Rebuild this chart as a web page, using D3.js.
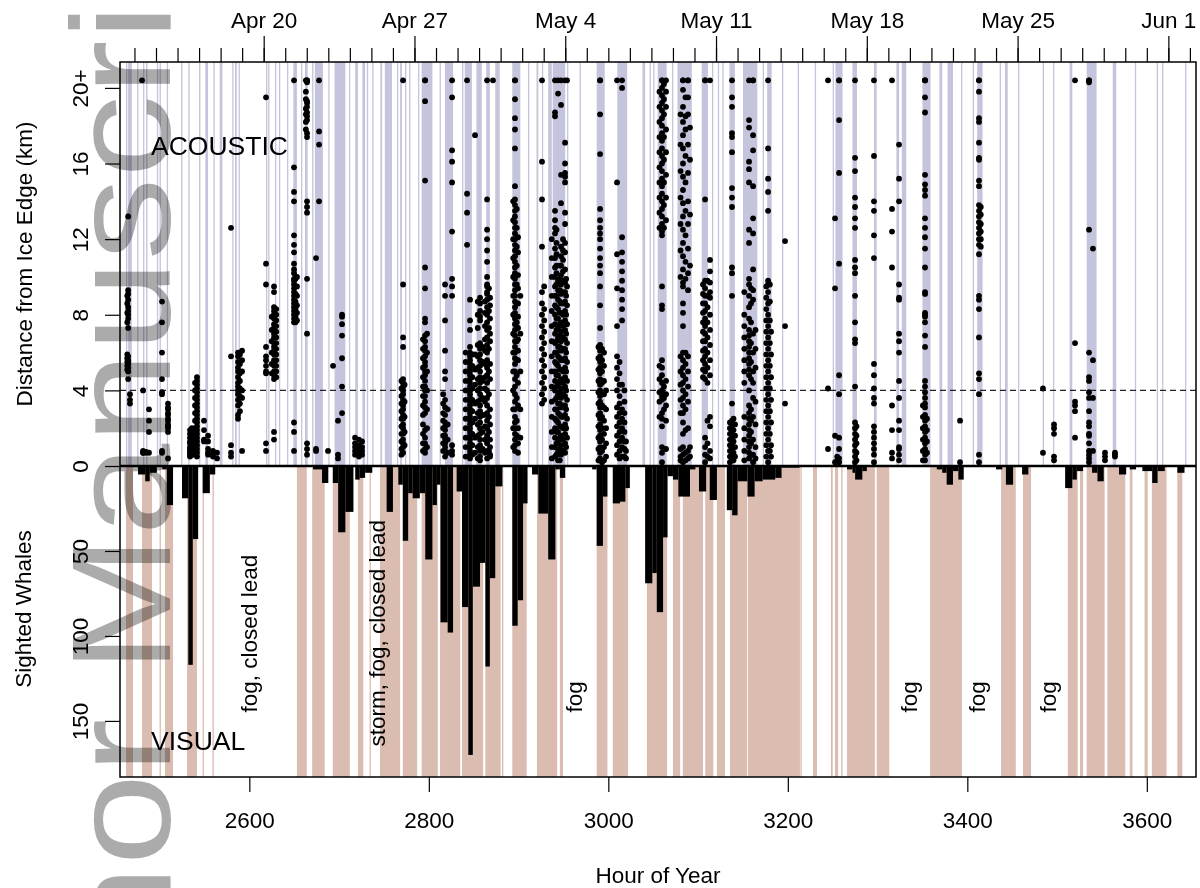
<!DOCTYPE html>
<html>
<head>
<meta charset="utf-8">
<script src="https://cdn.jsdelivr.net/npm/d3@7"></script>
<style>
  html, body { margin: 0; padding: 0; background: #fff; }
  svg { display: block; font-family: "Liberation Sans", Arial, Helvetica, sans-serif; }
</style>
</head>
<body>
<svg id="chart" width="1200" height="888"></svg>
<script>
// ---------------- DATA ----------------
const hourTicks = [2600, 2800, 3000, 3200, 3400, 3600];
const dateLabels = ["Apr 20", "Apr 27", "May 4", "May 11", "May 18", "May 25", "Jun 1"];
const dateHours = [2616, 2784, 2952, 3120, 3288, 3456, 3624];
const dayTickHours = d3.range(2472, 3649, 24); // one tick per day, Apr 14 .. Jun 2

const kmTicks = [0, 4, 8, 12, 16, 20];
const kmTickLabels = ["0", "4", "8", "12", "16", "20+"];
const whaleTicks = [50, 100, 150];
const thresholdKm = 4;

// acoustic effort (lavender lines), hour ranges
const acousticEffort = [[2462.6,2463.6],[2465,2469],[2475,2476],[2481.6,2482.6],[2485,2486.5],[2497,2498],[2500,2501],[2508,2509],[2524,2525],[2532,2533],[2544,2545],[2551,2554],[2560,2561],[2567,2570],[2581,2582],[2584,2586],[2588,2589],[2618.6,2619.6],[2621,2622],[2628.6,2629.6],[2633,2634],[2642,2643],[2649,2653],[2657.6,2658.6],[2662,2665],[2670,2671],[2673,2682],[2688,2689],[2695,2707],[2711,2712],[2718,2721],[2726,2729],[2731,2732],[2737,2738],[2746,2748],[2751,2759],[2764.5,2765.5],[2768,2770],[2773.5,2774.5],[2778,2779],[2788,2789],[2792,2804],[2812,2813],[2818,2827],[2837,2838],[2840,2848],[2853,2859],[2864,2868],[2874,2879],[2893,2902],[2910.5,2911.5],[2920,2922],[2926,2927],[2933,2937],[2938,2952],[2954,2955],[2968,2969],[2987,2996],[3010,3021],[3038,3041],[3046,3047],[3050,3051],[3055,3065],[3071,3072],[3077,3093],[3104,3111],[3115.5,3116.5],[3122,3123],[3127,3128],[3135,3141],[3150,3166],[3172,3173],[3177,3182],[3193.5,3194.5],[3211,3212],[3230,3231],[3250,3251],[3253,3261],[3272,3277],[3296,3299],[3321,3324],[3327,3332],[3350,3359],[3369,3372],[3378,3384],[3393,3394],[3406,3407],[3411,3417],[3436,3437],[3442,3445],[3456.5,3457.5],[3484,3485],[3495.5,3496.5],[3514,3517],[3533,3544],[3562,3566],[3586.7,3587.7],[3611,3612],[3617,3618],[3642.6,3643.6]];

// visual effort (tan bands), hour ranges
const visualEffort = [[2462.6,2470.4],[2480.4,2491.6],[2500,2501.2],[2506,2515],[2530.6,2541.7],[2548,2549.2],[2559,2560.2],[2653,2664],[2670,2684],[2693,2712],[2721,2727],[2734,2735.2],[2745.6,2768],[2771,2787],[2792,2810],[2812.5,2835],[2837,2860.5],[2863,2880],[2881.5,2883],[2893,2909],[2920.5,2943],[2946,2949.5],[2987,2999],[3005,3022],[3043,3065.5],[3072,3080],[3083,3105.5],[3108,3117],[3121,3130],[3135.5,3154.5],[3155.5,3213.5],[3214,3215.5],[3228,3232.5],[3248,3250],[3252.6,3256],[3259.5,3261],[3266,3297],[3299,3313],[3358.5,3394],[3437.6,3454],[3462,3471],[3512,3523],[3525.6,3529],[3533,3553],[3556,3576],[3581,3584],[3597.5,3601],[3605.6,3622],[3634,3639.5]];

// sighted whales: [startHour, endHour, count]
const sightings = [[2476,2484,5],[2484,2489,9],[2489,2497,4],[2503,2508,2],[2508,2515,23],[2525,2532,19],[2532,2537,117],[2537,2543,43],[2548,2556,16],[2556,2562,5],[2671,2681,2],[2681,2688,10],[2693,2699,10],[2699,2707,39],[2707,2716,27],[2718,2723,8],[2723,2729,7],[2729,2737,4],[2753,2760,27],[2766,2771,11],[2771,2777,44],[2777,2782,16],[2782,2790,19],[2790,2796,16],[2796,2804,55],[2804,2809,23],[2809,2813,11],[2813,2821,92],[2821,2827,98],[2831,2837,15],[2837,2844,83],[2844,2849,170],[2849,2857,71],[2857,2863,57],[2863,2868,118],[2868,2874,66],[2874,2882,12],[2893,2899,94],[2899,2905,79],[2905,2910,22],[2915,2922,5],[2922,2933,28],[2933,2941,55],[2941,2946,2],[2946,2952,7],[2982,2987,2],[2987,2994,47],[2994,2999,18],[3005,3013,22],[3013,3019,21],[3019,3024,13],[3041,3049,69],[3049,3054,63],[3054,3061,86],[3061,3066,42],[3066,3072,6],[3072,3078,8],[3078,3091,18],[3091,3097,2],[3101,3109,15],[3113,3121,20],[3132,3138,26],[3138,3144,29],[3144,3155,9],[3155,3163,18],[3163,3172,9],[3172,3186,8],[3186,3193,7],[3193,3200,1],[3200,3213,1],[3266,3272,2],[3272,3275,4],[3275,3283,8],[3283,3288,3],[3366,3372,2],[3372,3377,4],[3377,3384,11],[3384,3390,3],[3390,3396,8],[3432,3439,2],[3443,3451,11],[3461,3468,5],[3509,3517,13],[3517,3522,8],[3522,3529,3],[3539,3545,4],[3545,3552,9],[3569,3577,5],[3581,3588,2],[3595,3606,3],[3606,3612,10],[3612,3620,3],[3634,3642,4]];

// acoustic detections: [hour, [distances km]] (20.4 = "20+")
const detections = [
[2464,[5.9,5.7,5.5,5.3,5.1,9.0,8.6,8.1,7.6]],
[2465,[13.2,9.3,9.1,8.8,8.4,8.2,8.0,7.8,7.3,5.8,5.6,5.5,5.4,5.2,5.0,4.6]],
[2467,[3.8,3.3,3.5]],
[2480.4,[20.4]],
[2481.6,[4.0,0.8,0.7,0.7]],
[2484.9,[0.75,0.7]],
[2488.2,[3.0,2.4,1.8,0.7]],
[2502.7,[8.7,7.6,6.0,4.6,3.9,3.8,0.7,0.8]],
[2509.4,[3.3,3.1,3.0,2.8,2.7,2.5,2.4,2.2,2.1,2.0,1.8,0.4]],
[2533.9,[1.9,1.7,1.5,1.3,1.2,1.0,0.9,0.8,0.7,0.6,0.5]],
[2536,[2.0,1.6,1.2,0.9,0.6]],
[2537.3,[1.8,1.4,1.1,0.8,0.6]],
[2539.5,[4.4,4.0,3.6,3.2,2.8,2.4,2.0,1.6,1.2,0.8]],
[2541.7,[4.7,4.5,4.3,4.1,3.9,3.7,3.5,3.3,3.1,2.9,2.7,2.5,2.3,2.1,1.9,1.7,1.5,1.3,1.1,0.9,0.7,0.5]],
[2549.5,[2.4,1.9,1.4,1.3]],
[2554,[1.6,1.3,0.9,0.7,0.6]],
[2559.5,[0.8,0.6,0.5]],
[2564,[0.7,0.4]],
[2579.6,[12.6,5.8,1.1,0.7,0.5]],
[2587.4,[6.0,5.8,5.5,5.2,5.0,4.7,4.4,4.2,4.0,3.8,3.5,3.2,2.7,2.5]],
[2589.5,[5.9,5.4,4.9,4.5,4.1,3.7,3.3,2.9]],
[2591.9,[6.1,5.6,5.0,4.0,3.6,0.8]],
[2618.6,[19.5,10.7,9.6,6.3,5.8,5.6,5.3,5.0,4.9,1.2,0.8]],
[2625,[7.9,7.2,6.6,6.0,5.4,4.9]],
[2627.5,[9.2,9.5,8.4,8.2,8.0,7.8,7.5,7.3,7.0,6.8,6.5,6.3,6.1,5.9,5.6,5.3,5.0,4.8,4.6,1.8,1.4]],
[2630,[8.3,8.0,7.7,7.4,7.1,6.8,6.5,6.2,5.9,5.6,5.3,5.0,4.7]],
[2649.8,[20.4,15.8,14.5,14.0,12.2,11.7,11.3,10.7,10.4,10.2,9.9,9.8,9.6,9.4,9.2,9.0,8.8,8.6,8.4,8.2,8.0,7.8,7.6,2.3,1.8,0.8]],
[2651.5,[9.9,9.5,9.1,8.7,8.3,7.9,7.6]],
[2653.1,[10.0,9.5,9.0,8.5,8.1,7.7]],
[2663,[20.4,19.8,19.4,18.9,18.6,18.2,17.8]],
[2664.3,[20.4,20.4,20.3,19.3,19.2,19.0,18.7,18.5,18.3,17.6,17.4,14.0,13.7,13.4,9.9,7.0,1.2,0.9,0.6]],
[2674.3,[11.0,0.9,0.8]],
[2677.7,[20.4,17.7,17.0,14.0]],
[2687.7,[0.8]],
[2693.3,[5.3]],
[2698.8,[2.4,0.6,0.4]],
[2703.3,[8.0,7.9,7.5,6.9,5.7,4.2,2.8]],
[2717.8,[1.5,1.2,1.0,0.8,0.6]],
[2722.2,[1.4,1.1,0.9,0.7,0.5]],
[2725.6,[1.3,1.0,0.8,0.6]],
[2769.5,[4.5,4.1,3.7,3.3,2.9,2.5,2.1,1.7,1.3,0.9,0.6]],
[2771.3,[20.4,9.6,6.8,6.3,4.6,4.4,4.2,4.0,3.8,3.5,3.2,3.0,2.7,2.5,2.2,2.0,1.7,1.4,1.2,1.0,0.7]],
[2773,[4.3,3.4,2.6,1.8,1.1]],
[2793.5,[6.7,6.2,5.7,5.2,4.7,4.2,3.7,3.2,2.7,2.2,1.7,1.2,0.8]],
[2795.8,[20.4,20.4,19.3,15.1,10.5,9.4,7.8,7.6,6.9,6.6,6.3,6.1,5.8,5.5,5.3,5.0,4.8,4.5,4.2,4.0,3.7,3.4,3.1,2.8,1.9,1.5,1.2,0.9,0.7]],
[2798,[7.0,6.0,5.0,4.0,3.0,2.0,1.0]],
[2816,[3.8,3.3,2.8,2.4,2.0,1.6,1.2,0.8]],
[2818.1,[9.6,9.0,7.7,6.1,5.0,4.6,3.5,3.1,2.7,2.3,2.1,1.9,1.6,1.4,1.2,1.0,0.8,0.5]],
[2821,[3.0,2.2,1.4,0.7]],
[2825.9,[20.4,19.5,16.7,16.1,15.0,12.4,9.9,9.5,9.0,1.1,0.8,0.6]],
[2841,[6.0,5.5,5.0,4.5,4.0,3.5,3.0,2.5,2.0,1.5,1.0,0.5]],
[2842.6,[20.4,14.4,13.4,11.7]],
[2845.9,[8.8,7.7,7.2,6.3,6.0,5.8,5.6,5.4,5.2,5.0,4.8,4.6,4.4,4.2,4.0,3.8,3.6,3.4,3.2,3.0,2.8,2.6,2.4,2.2,2.0,1.8,1.6,1.4,1.2,1.0,0.8,0.6,0.4]],
[2848.5,[5.9,5.3,4.7,4.1,3.5,2.9,2.3,1.7,1.1,0.6]],
[2851.5,[17.5,5.9,5.1,4.3,3.3,2.5,1.5,0.7]],
[2854.5,[8.7,8.0,7.3,6.4,5.8,5.2,4.6,4.0,3.4,2.8,2.2,1.6,1.0,0.4]],
[2857.1,[8.9,8.6,8.2,7.9,7.7,6.5,6.2,5.9,5.6,5.3,5.0,4.7,4.4,4.1,3.8,3.5,3.2,2.9,2.6,2.3,2.0,1.7,1.4,1.1,0.8,0.5,0.3]],
[2860,[6.3,5.5,4.5,3.6,2.7,1.8,0.9]],
[2862.5,[8.7,8.1,7.4,6.7,6.1,5.4,4.7,4.1,3.4,2.7,2.1,1.4,0.7]],
[2864.9,[20.4,14.1,12.5,12.0,11.4,10.8,10.0,9.5,9.1,9.6,9.2,8.8,8.4,8.0,7.6,7.2,6.8,6.4,6.0,5.6,5.2,4.8,4.4,4.0,3.6,3.2,2.8,2.4,2.0,1.6,1.2,0.8,0.4]],
[2867,[9.4,8.2,7.3,6.2,5.0,3.8,2.6,1.8,0.8]],
[2868.2,[8.9,8.5,7.8,7.0,6.6,5.4,4.6,3.0,2.2,1.4,0.6,1.0,0.5]],
[2871.5,[20.4]],
[2894,[14.0,13.0,12.0,11.0,10.0,9.0,8.0,7.0,6.0,5.0,4.0,3.0,2.0,1.0]],
[2896,[20.4,20.4,19.4,18.4,17.8,16.8,14.8,14.1,13.8,13.5,13.2,12.9,12.6,12.3,12.0,11.7,11.4,11.1,10.8,10.5,10.2,9.9,9.6,9.3,9.0,8.7,8.4,8.1,7.8,7.5,7.2,6.9,6.6,6.3,6.0,5.7,5.4,5.0,4.6,4.2,3.8,3.4,3.0,2.6,2.3,2.0,1.7,1.4,1.1,0.8]],
[2898,[13.6,12.6,11.6,10.6,9.6,8.6,7.6,6.6,5.6,4.8,3.6,2.4,1.6]],
[2899.4,[12.1,11.3,10.1,9.4,8.6,7.9,7.3,6.7,6.1,5.6,4.4,3.2,2.0,1.2,0.7]],
[2902,[9.0,7.0,5.0,3.0,1.5]],
[2926.1,[20.4,16.1,14.1,11.6,9.2,8.6,8.0,7.4,6.8,6.2,5.6,5.0,4.4,3.8,3.3]],
[2928.5,[9.5,8.3,7.7,7.1,6.5,5.9,5.3,4.7,4.1,3.5]],
[2937,[12.0,11.0,10.0,9.0,8.2,7.4,6.6,5.8,5.0,4.2,3.4,2.6,1.8,1.0,0.4]],
[2940.6,[20.4,18.7,18.5,13.5,13.0,12.6,12.3,11.5,11.0,10.5,10.0,9.5,9.0,8.5,8.0,7.5,7.0,6.5,6.0,5.5,5.0,4.5,4.0,3.5,3.0,2.5,2.0,1.5,1.0,0.5]],
[2942.3,[12.5,11.8,11.2,10.6,10.2,9.6,9.0,8.4,7.8,7.2,6.6,6.0,5.4,4.8,4.2,3.6,3.0,2.4,1.8,1.2,0.6]],
[2944,[20.4,19.7,9.8,9.3,8.8,8.3,7.8,7.3,6.8,6.3,5.8,5.3,4.8,4.3,3.8,3.3,2.8,2.3,1.8,1.3,0.8,0.3]],
[2946,[10.6,9.9,9.3,8.7,8.1,7.5,6.9,6.3,5.7,5.1,4.5,3.9,3.3,2.7,2.1,1.5,0.9,0.3]],
[2947.3,[20.4,19.1,15.4,13.9,11.6,11.1,10.6,10.1,9.6,9.1,8.6,8.1,7.6,7.1,6.6,6.1,5.6,5.1,4.6,4.1,3.6,3.1,2.6,2.1,1.6,1.1,0.6]],
[2949.5,[12.0,11.4,10.9,10.3,9.8,9.2,8.6,8.0,7.4,6.8,6.2,5.6,5.0,4.4,3.8,3.2,2.6,2.0,1.4,0.8]],
[2951.8,[20.4,17.1,16.0,15.5,15.3,15.0,13.4,12.8,11.8,11.3,10.4,9.7,9.2,8.7,8.2,7.7,7.2,6.7,6.2,5.7,5.2,4.7,4.2,3.7,3.2,2.7,2.2,1.7,1.2,0.7]],
[2953,[9.9,9.0,8.0,7.0,6.0,5.0,4.0,3.0,2.0,1.0]],
[2954,[20.4,9.5,8.5,7.5,6.5,5.5,4.5,3.5,2.5,1.5]],
[2989,[6.3,5.7,5.1,4.5,3.9,3.3,2.7,2.1,1.5,0.9,0.3]],
[2990.8,[20.4,20.4,18.6,16.5,13.6,13.0,12.6,12.3,12.0,11.5,11.0,10.6,10.2,9.5,8.5,7.3,6.4,6.1,5.8,5.5,5.2,4.9,4.6,4.3,4.0,3.7,3.4,3.1,2.8,2.5,2.2,1.9,1.6,1.3,1.0,0.7,0.4]],
[2993,[6.2,5.6,5.0,4.4,3.8,3.2,2.6,2.0,1.4,0.8,0.2]],
[2995.2,[6.0,5.3,4.5,3.8,3.1,2.4,1.7,1.0,0.3]],
[2997.5,[4.0,3.0,2.0,1.2,0.5]],
[3009.7,[20.4,15.0,11.2,9.4,7.4,5.8,5.2,4.6,4.0,3.1,2.6,2.1,1.6,1.1,0.6]],
[3012.5,[5.5,4.9,4.3,3.7,3.3,2.8,2.3,1.8,1.3,0.8,0.4]],
[3015.3,[20.4,20.0,12.1,11.3,10.8,10.3,9.8,9.3,8.8,8.3,7.7,4.3,3.0,2.5,2.0,1.5,1.0,0.5]],
[3018,[4.0,3.4,2.8,2.3,1.8,1.3,0.9,0.5]],
[3019.7,[0.8,0.4,1.3]],
[3057,[19.8,19.0,18.2,17.4,16.6,15.8,15.0,14.2,13.4,12.6,5.3,4.6,3.9,3.4,2.6]],
[3059.8,[20.4,20.4,20.0,19.6,19.2,18.8,18.4,18.0,17.6,17.2,16.8,16.4,16.0,15.6,15.2,14.8,14.4,14.0,13.6,13.2,12.8,12.4,12.2,9.5,8.5,8.3,5.6,5.2,4.8,4.4,4.0,3.9,3.7,3.5,2.8,2.5,2.1,1.0,0.7,0.2]],
[3062,[20.2,19.4,18.6,17.4,16.2,15.0,13.8,12.6,4.2,3.6,3.0]],
[3064.3,[20.4,19.8,19.0,17.8,16.6,15.4,14.2,13.0,4.5,3.8,3.2,2.4,0.9]],
[3080.5,[18.6,17.0,15.6,14.2,12.8,11.4,10.0,5.8,5.0,4.3,3.5,2.8,0.5,0.9,0.3]],
[3083.2,[20.4,20.4,19.9,19.0,18.2,17.5,16.8,16.0,15.3,14.6,13.9,13.2,12.5,11.8,11.1,10.4,9.7,9.5,8.6,8.1,7.4,6.0,5.6,5.2,4.8,4.4,4.0,3.6,3.2,2.8,2.3,1.7,1.0,0.6,0.2]],
[3086,[19.5,18.5,17.8,16.4,15.0,13.5,12.2,10.8,9.9,6.0,5.4,4.6,3.8,3.0,1.9,0.7,0.3]],
[3088.8,[20.4,20.4,19.5,18.6,17.0,15.5,14.0,12.8,11.5,10.2,9.3,5.8,5.0,4.2,3.4,2.0,0.8,0.4]],
[3091,[17.9,16.2,13.3,10.6,1.0,0.5]],
[3105.5,[9.6,9.1,8.6,8.1,7.6,7.1,6.6,6.1,5.6,5.1,4.7]],
[3107.8,[20.4,20.4,14.1,9.8,9.4,9.0,8.6,8.2,7.8,7.4,7.0,6.6,6.2,5.8,5.4,5.0,4.6,1.5,1.0,0.6,0.2]],
[3110.5,[9.8,9.0,8.4,7.6,6.8,6.0,5.2,4.4,2.4,1.2,0.5]],
[3113.3,[20.4,10.9,10.3,9.7,9.2,8.9,8.0,7.2,6.4,5.6,4.8,2.6,2.1,0.8,0.4]],
[3135.5,[2.3,2.0,1.7,1.4,1.1,0.8,0.5,0.2]],
[3137.8,[20.4,19.5,19.0,17.6,17.4,16.6,14.7,14.2,13.7,10.5,10.2,9.0,3.3,2.4,2.1,1.8,1.5,1.2,0.9,0.6,0.3]],
[3139.5,[2.5,1.9,1.3,0.7,0.3]],
[3141.2,[2.2,1.6,1.0,0.5]],
[3151.5,[9.2,8.0,7.4,6.8,6.2,5.6,5.0,4.4,2.6,2.0,1.4,0.8,0.3]],
[3156.8,[20.4,18.3,17.9,16.1,15.7,15.0,12.5,11.8,9.9,9.6,9.0,8.4,7.8,7.2,6.9,6.6,6.3,6.0,5.7,5.4,5.1,4.8,4.0,3.2,2.8,2.5,2.2,1.9,1.6,1.3,1.0,0.7,0.4]],
[3159,[9.4,8.6,7.6,6.5,5.5,4.6,3.0,2.4,1.8,1.2,0.6]],
[3161.3,[20.4,20.4,17.5,16.7,14.8,13.1,12.3,10.4,9.3,8.8,7.0,6.0,5.0,4.4,3.6,2.6,1.4,0.6,0.2]],
[3164,[7.2,6.2,5.2,3.4,2.2,1.0,0.4]],
[3176,[9.5,8.9,8.3,7.7,7.1,6.5,5.9,5.3,4.7,4.1,3.5,2.9,2.3,1.7,1.1,0.5]],
[3178,[20.4,16.8,15.2,14.5,13.5,9.6,9.8,9.2,8.6,8.0,7.4,6.8,6.2,5.6,5.0,4.4,3.8,3.2,2.6,2.0,1.4,0.8,0.2]],
[3180,[9.6,8.7,7.7,6.5,5.3,4.1,2.9,1.7,0.8]],
[3181.3,[7.1,5.9,4.7,3.5,2.3,1.1,0.5]],
[3196.9,[11.9,7.4,3.3]],
[3244.8,[20.4,4.1,0.9]],
[3252.6,[13.1,9.4,1.6,0.2]],
[3255,[0.5,0.3]],
[3257.1,[20.4,20.4,18.3,15.5,10.7,4.8,3.8,1.5,0.9,0.4,0.2]],
[3274.9,[20.4,16.3,15.6,14.2,13.7,13.1,12.6,10.9,10.5,10.2,9.0,7.6,6.7,6.5,4.2,2.3,2.0,1.7,1.4,1.1,0.8,0.5,0.2]],
[3276.5,[2.1,1.6,1.2,0.7,0.3]],
[3296,[20.4,16.4,14.0,13.5,12.2,11.0,5.4,4.8,4.1,3.6,3.3,2.1,1.8,1.5,1.2,0.9,0.6,0.2]],
[3316.1,[20.4,13.6,12.4,10.5,3.2,1.9,0.7,0.4]],
[3323.9,[17.0,15.2,14.0,9.6,8.9,8.8,7.0,6.6,6.0,4.5,3.6,2.4,1.9,1.0,0.9,0.6,0.3]],
[3350.5,[3.2,2.6,2.0,1.4,0.8,0.3]],
[3352.9,[20.4,20.4,20.4,19.5,18.7,15.4,14.9,14.6,14.3,13.1,12.6,12.1,11.5,10.5,9.2,9.1,8.0,8.1,7.9,7.6,6.9,6.3,4.5,4.2,3.9,3.6,3.3,3.1,2.7,2.4,2.1,1.8,1.5,1.2,0.9,0.6,0.3]],
[3355,[2.5,1.9,1.3,0.7]],
[3391.9,[2.4,0.2]],
[3413,[20.4,20.4,19.8,18.4,18.2,17.1,16.3,16.2,15.1,14.8,13.8,13.5,13.2,12.9,12.6,12.3,12.0,11.7,11.2,9.0,8.8,8.3,6.8,4.9,4.6,3.8,0.6,0.2]],
[3415,[13.7,13.3,12.8,12.4,12.0,11.6]],
[3484.3,[4.1,0.7]],
[3496.6,[2.2,2.0,1.7,0.5,0.3]],
[3520,[20.4,6.5,3.4,3.2,2.9,1.5]],
[3535.6,[20.4,20.4,20.3,12.5,6.0,4.7,4.5,3.9,3.6,2.9,2.3,2.1,1.7,1.6,1.2,0.8,0.6,0.4,0.2]],
[3540,[11.5,5.6,3.6,0.8]],
[3553.4,[0.7,0.5,0.3]],
[3564.5,[0.7,0.6,0.5]]
];

// annotations in the visual panel: [text, hour, whales at text start]
const annotations = [
  ["fog, closed lead", 2608.6, 145],
  ["storm, fog, closed lead", 2751, 165],
  ["fog", 2970.6, 145],
  ["fog", 3343.4, 145],
  ["fog", 3419.7, 145],
  ["fog", 3498.3, 145]
];

// ---------------- LAYOUT ----------------
const svg = d3.select("#chart");
const L = 120, R = 1196, T = 62, M = 466, B = 777;
const x = d3.scaleLinear().domain([2455.9, 3654.8]).range([L, R]);
const yTop = d3.scaleLinear().domain([0, 21.37]).range([M, T]);
const yBot = d3.scaleLinear().domain([0, 183]).range([M, B]);
const FS = 22.5;

svg.append("rect").attr("width", 1200).attr("height", 888).attr("fill", "#fff");

// acoustic effort lines
svg.append("g").selectAll("rect").data(acousticEffort).join("rect")
  .attr("x", d => x(d[0]))
  .attr("width", d => Math.max(1.3, x(d[1]) - x(d[0])))
  .attr("y", T).attr("height", M - T)
  .attr("fill", "#c4c4dc");

// visual effort bands
svg.append("g").selectAll("rect").data(visualEffort).join("rect")
  .attr("x", d => x(d[0]))
  .attr("width", d => Math.max(1.3, x(d[1]) - x(d[0])))
  .attr("y", M).attr("height", B - M)
  .attr("fill", "#dbbcb0");

// sighting bars
svg.append("g").selectAll("rect").data(sightings).join("rect")
  .attr("x", d => x(d[0]))
  .attr("width", d => x(d[1]) - x(d[0]))
  .attr("y", M)
  .attr("height", d => yBot(d[2]) - M)
  .attr("fill", "#000");

// threshold dashed line
svg.append("line")
  .attr("x1", L).attr("x2", R)
  .attr("y1", yTop(thresholdKm)).attr("y2", yTop(thresholdKm))
  .attr("stroke", "#222").attr("stroke-width", 1.1).attr("stroke-dasharray", "6,4");

// detection points
const pts = [];
detections.forEach(([h, vals]) => vals.forEach(v => pts.push([h, v])));
svg.append("g").selectAll("circle").data(pts).join("circle")
  .attr("cx", d => x(d[0]))
  .attr("cy", d => yTop(d[1]))
  .attr("r", 2.9)
  .attr("fill", "#000");

// zero line
svg.append("line").attr("x1", L).attr("x2", R).attr("y1", M).attr("y2", M)
  .attr("stroke", "#000").attr("stroke-width", 2.4);

// frame
svg.append("rect").attr("x", L).attr("y", T).attr("width", R - L).attr("height", B - T)
  .attr("fill", "none").attr("stroke", "#000").attr("stroke-width", 1.5);

// ---- axes ----
function styleAxis(g) {
  g.select(".domain").remove();
  g.selectAll("line").attr("stroke", "#000").attr("stroke-width", 1.2);
  g.selectAll("text").attr("fill", "#000").style("font-size", FS + "px")
    .style("font-family", '"Liberation Sans", Arial, sans-serif');
}

svg.append("g").attr("transform", `translate(0,${T})`)
  .call(d3.axisTop(x).tickValues(dayTickHours).tickSize(14).tickFormat(""))
  .call(styleAxis);
const gTop = svg.append("g").attr("transform", `translate(0,${T})`)
  .call(d3.axisTop(x).tickValues(dateHours).tickSize(26)
    .tickFormat((d, i) => dateLabels[i]))
  .call(styleAxis);
gTop.selectAll("text").attr("y", -34).attr("dy", 0);

const gBot = svg.append("g").attr("transform", `translate(0,${B})`)
  .call(d3.axisBottom(x).tickValues(hourTicks).tickSize(15).tickFormat(d3.format("d")))
  .call(styleAxis);
gBot.selectAll("text").attr("y", 51).attr("dy", 0);

const gL1 = svg.append("g").attr("transform", `translate(${L},0)`)
  .call(d3.axisLeft(yTop).tickValues(kmTicks).tickSize(15)
    .tickFormat((d, i) => kmTickLabels[i]))
  .call(styleAxis);
gL1.selectAll("text").attr("x", null).attr("dy", 0).attr("text-anchor", "middle")
  .attr("transform", "translate(-32,0) rotate(-90)");

const gL2 = svg.append("g").attr("transform", `translate(${L},0)`)
  .call(d3.axisLeft(yBot).tickValues(whaleTicks).tickSize(15).tickFormat(d3.format("d")))
  .call(styleAxis);
gL2.selectAll("text").attr("x", null).attr("dy", 0).attr("text-anchor", "middle")
  .attr("transform", "translate(-32,0) rotate(-90)");

// axis titles
svg.append("text").attr("transform", `translate(32,${(T + M) / 2}) rotate(-90)`)
  .attr("text-anchor", "middle").style("font-size", FS + "px").text("Distance from Ice Edge (km)");
svg.append("text").attr("transform", `translate(31,609) rotate(-90)`)
  .attr("text-anchor", "middle").style("font-size", FS + "px").text("Sighted Whales");
svg.append("text").attr("x", (L + R) / 2).attr("y", 883)
  .attr("text-anchor", "middle").style("font-size", FS + "px").text("Hour of Year");

// panel labels
svg.append("text").attr("x", 151).attr("y", 155).style("font-size", "26.5px").text("ACOUSTIC");
svg.append("text").attr("x", 151).attr("y", 750).style("font-size", "26.5px").text("VISUAL");

// annotations
svg.append("g").selectAll("text").data(annotations).join("text")
  .attr("transform", d => `translate(${x(d[1])},${yBot(d[2])}) rotate(-90)`)
  .attr("text-anchor", "start")
  .style("font-size", FS + "px")
  .text(d => d[0]);

// watermark
svg.append("text")
  .attr("transform", "translate(170,-134) rotate(-90) scale(1,0.86)")
  .attr("text-anchor", "end")
  .style("font-size", "165px")
  .style("mix-blend-mode", "multiply")
  .attr("fill", "#ababab")
  .text("Author Manuscript");
</script>
</body>
</html>
